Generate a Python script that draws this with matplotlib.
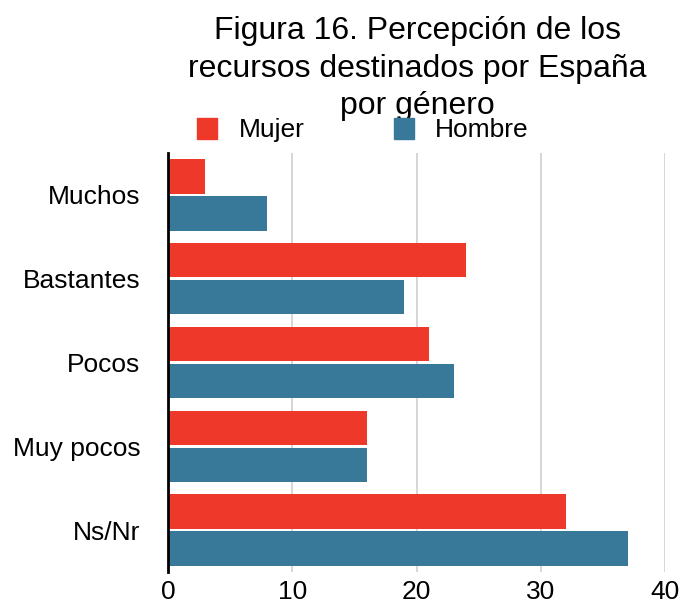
import numpy as np
import matplotlib.pyplot as plt
from matplotlib.patches import Patch

plt.rcParams['font.family'] = ['Liberation Sans', 'DejaVu Sans']

categories = ['Muchos', 'Bastantes', 'Pocos', 'Muy pocos', 'Ns/Nr']
mujer = [3, 24, 21, 16, 32]
hombre = [8, 19, 23, 16, 37]
x_ticks = [0, 10, 20, 30, 40]

red = '#EE3829'
blue = '#387899'

fig = plt.figure(figsize=(6.8, 6.07), dpi=100)
ax = fig.add_axes([168 / 680, 1 - 572 / 607, (665 - 168) / 680, (572 - 153) / 607])

y = np.arange(len(categories))
h = 0.41
ax.barh(y - 0.22, mujer, height=h, color=red, zorder=3)
ax.barh(y + 0.22, hombre, height=h, color=blue, zorder=3)

ax.set_ylim(len(categories) - 0.5, -0.5)
ax.set_xlim(0, 40)
ax.set_yticks(y)
ax.set_yticklabels(categories, fontsize=19)
ax.set_xticks(x_ticks)
ax.set_xticklabels([str(t) for t in x_ticks], fontsize=19)
ax.tick_params(length=0, pad=6)
ax.tick_params(axis='y', pad=20)

for s in ['top', 'right', 'bottom']:
    ax.spines[s].set_visible(False)
ax.spines['left'].set_linewidth(2)
ax.spines['left'].set_zorder(4)
ax.grid(axis='x', color='#d0d0d0', linewidth=1.2, zorder=0)

fig.text(417 / 680, 1 - 16 / 607, 'Figura 16. Percepción de los\nrecursos destinados por España\npor género',
         ha='center', va='top', fontsize=23, linespacing=1.33)

handles = [Patch(color=red, label='Mujer'), Patch(color=blue, label='Hombre')]
fig.legend(handles=handles, loc='center', bbox_to_anchor=(363 / 680, 1 - 130 / 607), ncol=2,
           frameon=False, fontsize=19, handlelength=0.75, handleheight=0.85,
           columnspacing=3.4, handletextpad=0.8)

plt.savefig('out.png', dpi=100)
